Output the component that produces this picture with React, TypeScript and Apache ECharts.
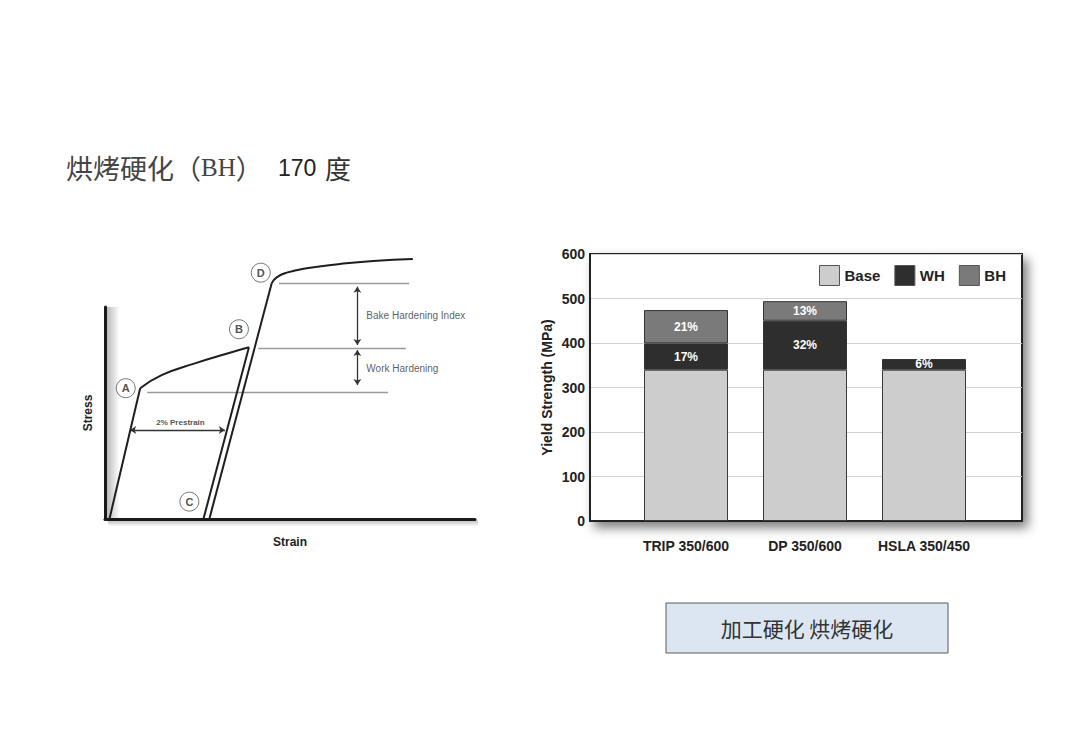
import React, { useEffect, useRef } from "react";
import * as echarts from "echarts";

// ---------- Right chart data ----------
const categories = ["TRIP 350/600", "DP 350/600", "HSLA 350/450"];
const baseValues = [340, 340, 340];
const whValues = [59, 110, 24];
const bhValues: (number | null)[] = [75, 44, null];
const whLabels = ["17%", "32%", "6%"];
const bhLabels = ["21%", "13%", ""];
const yMax = 600;
const yInterval = 100;

// ---------- Left schematic (strain, stress) ----------
const elasticLoading = [[1.2, 0], [9.5, 61.7]];
const workHardening = [[9.5, 61.7], [15.3, 67.9], [24.3, 73.4], [33.3, 78.2], [38.9, 81.0]];
const unloading = [[38.9, 81.0], [26.6, 0]];
const reloading = [[28.2, 0], [45.05, 111.2]];
const bakedCurve = [[45.05, 111.2], [46.4, 114.0], [49.1, 116.2], [54.5, 118.3], [63.5, 120.3], [72.5, 121.7], [83.2, 122.6]];
const levelLines = [
  [[11.4, 60.0], [76.5, 60.0]],
  [[41.4, 80.5], [81.3, 80.5]],
  [[47.0, 111.2], [82.2, 111.2]],
];
const arrowLines = [
  [[68.2, 109.6], [68.2, 82.1]],
  [[68.2, 79.7], [68.2, 63.2]],
  [[6.8, 42.0], [32.4, 42.0]],
];
const pointMarks = [
  { name: "A", value: [5.6, 61.7] },
  { name: "B", value: [36.2, 89.5] },
  { name: "C", value: [22.8, 8.2] },
  { name: "D", value: [42.1, 116.2] },
];
const sideNotes = [
  { name: "Bake Hardening Index", value: [70.5, 95.8] },
  { name: "Work Hardening", value: [70.5, 71.1] },
];
const prestrainNote = [{ name: "2% Prestrain", value: [20.4, 45.3] }];

const SANS = "'Liberation Sans Narrow', 'Liberation Sans', Arial, sans-serif";
const CJK = "'Noto Sans CJK SC', sans-serif";

export default function App() {
  const ref = useRef<HTMLDivElement>(null);
  useEffect(() => {
    if (!ref.current) return;
    const chart = echarts.init(ref.current, null, { renderer: "svg" });
    const schematicLine = (data: number[][], smooth: boolean) => ({
      type: "line",
      xAxisIndex: 2,
      yAxisIndex: 2,
      data,
      smooth,
      clip: false,
      symbol: "none",
      silent: true,
      lineStyle: { color: "#1e1e1e", width: 2 },
      z: 5,
    });
    const option: any = {
      animation: false,
      backgroundColor: "#ffffff",
      textStyle: { fontFamily: SANS },
      grid: [
        {
          left: 590,
          top: 254,
          width: 432,
          height: 267,
          show: true,
          backgroundColor: "#ffffff",
          borderColor: "#222",
          borderWidth: 2,
          shadowColor: "rgba(0,0,0,0.5)",
          shadowBlur: 11,
          shadowOffsetX: 5,
          shadowOffsetY: 6,
        },
        { left: 626.5, top: 254, width: 357, height: 267 },
        { left: 105, top: 307, width: 370, height: 212 },
      ],
      legend: {
        data: ["Base", "WH", "BH"],
        left: 819,
        top: 265,
        padding: 0,
        itemWidth: 20,
        itemHeight: 20,
        itemGap: 14,
        icon: "rect",
        selectedMode: false,
        textStyle: { fontFamily: SANS, fontWeight: "bold", fontSize: 15, color: "#222" },
        itemStyle: { borderColor: "#555", borderWidth: 1 },
      },
      xAxis: [
        {
          gridIndex: 0,
          type: "value",
          min: 0,
          max: 1,
          splitLine: { show: false },
          axisTick: { show: false },
          axisLabel: { show: false },
          axisLine: { show: true, lineStyle: { color: "#222", width: 2 } },
        },
        {
          gridIndex: 1,
          type: "category",
          data: categories,
          axisLine: { show: false },
          axisTick: { show: false },
          axisLabel: { interval: 0, fontFamily: SANS, fontWeight: "bold", fontSize: 14, color: "#222", margin: 18 },
        },
        {
          gridIndex: 2,
          type: "value",
          min: 0,
          max: 100,
          splitLine: { show: false },
          axisTick: { show: false },
          axisLabel: { show: false },
          axisLine: { show: true, onZero: false, lineStyle: { color: "#1a1a1a", width: 3 } },
          name: "Strain",
          nameLocation: "middle",
          nameGap: 17,
          nameTextStyle: { fontFamily: SANS, fontWeight: "bold", fontSize: 12, color: "#222" },
        },
      ],
      yAxis: [
        {
          gridIndex: 0,
          type: "value",
          min: 0,
          max: yMax,
          interval: yInterval,
          axisTick: { show: false },
          axisLine: { show: true, lineStyle: { color: "#222", width: 2 } },
          splitLine: { show: true, lineStyle: { color: "#d2d2d2", width: 1 } },
          axisLabel: { fontFamily: SANS, fontWeight: "bold", fontSize: 14, color: "#222", margin: 5 },
          name: "Yield Strength (MPa)",
          nameLocation: "middle",
          nameGap: 36,
          nameTextStyle: { fontFamily: SANS, fontWeight: "bold", fontSize: 14, color: "#222" },
        },
        {
          gridIndex: 1,
          type: "value",
          min: 0,
          max: yMax,
          interval: yInterval,
          show: false,
        },
        {
          gridIndex: 2,
          type: "value",
          min: 0,
          max: 100,
          splitLine: { show: false },
          axisTick: { show: false },
          axisLabel: { show: false },
          axisLine: { show: true, onZero: false, lineStyle: { color: "#1a1a1a", width: 3 } },
          name: "Stress",
          nameLocation: "middle",
          nameGap: 11,
          nameTextStyle: { fontFamily: SANS, fontWeight: "bold", fontSize: 12, color: "#222" },
        },
      ],
      series: [
        {
          name: "Base",
          type: "bar",
          xAxisIndex: 1,
          yAxisIndex: 1,
          stack: "ys",
          barWidth: 84,
          data: baseValues,
          itemStyle: { color: "#cdcdcd", borderColor: "#3a3a3a", borderWidth: 1 },
        },
        {
          name: "WH",
          type: "bar",
          xAxisIndex: 1,
          yAxisIndex: 1,
          stack: "ys",
          barWidth: 84,
          data: whValues,
          itemStyle: { color: "#2e2e2e", borderColor: "#333", borderWidth: 1 },
          label: {
            show: true,
            position: "inside",
            formatter: (p: any) => whLabels[p.dataIndex],
            color: "#fff",
            fontWeight: "bold",
            fontSize: 12,
            fontFamily: SANS,
          },
        },
        {
          name: "BH",
          type: "bar",
          xAxisIndex: 1,
          yAxisIndex: 1,
          stack: "ys",
          barWidth: 84,
          data: bhValues,
          itemStyle: { color: "#7a7a7a", borderColor: "#333", borderWidth: 1 },
          label: {
            show: true,
            position: "inside",
            formatter: (p: any) => bhLabels[p.dataIndex],
            color: "#fff",
            fontWeight: "bold",
            fontSize: 12,
            fontFamily: SANS,
          },
        },
        schematicLine(elasticLoading, false),
        schematicLine(workHardening, true),
        schematicLine(unloading, false),
        schematicLine(reloading, false),
        schematicLine(bakedCurve, true),
        {
          type: "lines",
          coordinateSystem: "cartesian2d",
          xAxisIndex: 2,
          yAxisIndex: 2,
          clip: false,
          silent: true,
          symbol: "none",
          lineStyle: { color: "#9a9a9a", width: 1.3, opacity: 1 },
          data: levelLines.map((c) => ({ coords: c })),
        },
        {
          type: "lines",
          coordinateSystem: "cartesian2d",
          xAxisIndex: 2,
          yAxisIndex: 2,
          clip: false,
          silent: true,
          symbol: ["arrow", "arrow"],
          symbolSize: 6,
          lineStyle: { color: "#333", width: 1.3, opacity: 1 },
          data: arrowLines.map((c) => ({ coords: c })),
        },
        {
          type: "scatter",
          xAxisIndex: 2,
          yAxisIndex: 2,
          clip: false,
          silent: true,
          symbol: "circle",
          symbolSize: 19,
          itemStyle: { color: "#fff", borderColor: "#555", borderWidth: 1 },
          label: { show: true, position: "inside", formatter: "{b}", color: "#222", fontWeight: "bold", fontSize: 11, fontFamily: SANS },
          data: pointMarks,
          z: 6,
        },
        {
          type: "scatter",
          xAxisIndex: 2,
          yAxisIndex: 2,
          clip: false,
          silent: true,
          symbolSize: 1,
          itemStyle: { color: "rgba(0,0,0,0)" },
          label: { show: true, position: "right", distance: 0, formatter: "{b}", color: "#333", fontSize: 10, fontFamily: SANS },
          data: sideNotes,
        },
        {
          type: "scatter",
          xAxisIndex: 2,
          yAxisIndex: 2,
          clip: false,
          silent: true,
          symbolSize: 1,
          itemStyle: { color: "rgba(0,0,0,0)" },
          label: { show: true, position: "inside", formatter: "{b}", color: "#222", fontWeight: "bold", fontSize: 8, fontFamily: SANS },
          data: prestrainNote,
        },
      ],
      graphic: [
        {
          type: "rect",
          z: -1,
          shape: { x: 106.5, y: 307, width: 13, height: 212 },
          style: {
            fill: new echarts.graphic.LinearGradient(0, 0, 1, 0, [
              { offset: 0, color: "rgba(0,0,0,0.28)" },
              { offset: 1, color: "rgba(0,0,0,0)" },
            ]),
          },
        },
        {
          type: "rect",
          z: -1,
          shape: { x: 108, y: 520.5, width: 370, height: 6 },
          style: {
            fill: new echarts.graphic.LinearGradient(0, 0, 0, 1, [
              { offset: 0, color: "rgba(0,0,0,0.25)" },
              { offset: 1, color: "rgba(0,0,0,0)" },
            ]),
          },
        },
        {
          type: "text",
          x: 66,
          y: 167,
          style: {
            text: "{c|烘烤硬化（}{s|BH}{c|）}",
            verticalAlign: "middle",
            rich: {
              c: { fontFamily: CJK, fontSize: 27, fill: "#444", color: "#444" },
              s: { fontFamily: "'Liberation Serif', 'DejaVu Serif', serif", fontSize: 25, fill: "#444", color: "#444" },
            },
          },
        },
        {
          type: "text",
          x: 278,
          y: 168,
          style: { text: "170", fontFamily: "'Liberation Sans', Arial, sans-serif", fontSize: 23, fill: "#222", verticalAlign: "middle" },
        },
        {
          type: "text",
          x: 325,
          y: 167,
          style: { text: "度", fontFamily: CJK, fontSize: 26, fill: "#333", verticalAlign: "middle" },
        },
        {
          type: "rect",
          shape: { x: 666, y: 603, width: 282, height: 50 },
          style: { fill: "#dce6f2", stroke: "#5a5a5a", lineWidth: 1 },
        },
        {
          type: "text",
          x: 807,
          y: 628,
          style: { text: "加工硬化 烘烤硬化", fontFamily: CJK, fontSize: 21, fill: "#333", align: "center", verticalAlign: "middle" },
        },
      ],
    };
    chart.setOption(option);
    return () => chart.dispose();
  }, []);
  return (
    <div
      ref={ref}
      style={{ position: "absolute", left: 0, top: 0, width: 1080, height: 748, background: "#fff" }}
    />
  );
}
